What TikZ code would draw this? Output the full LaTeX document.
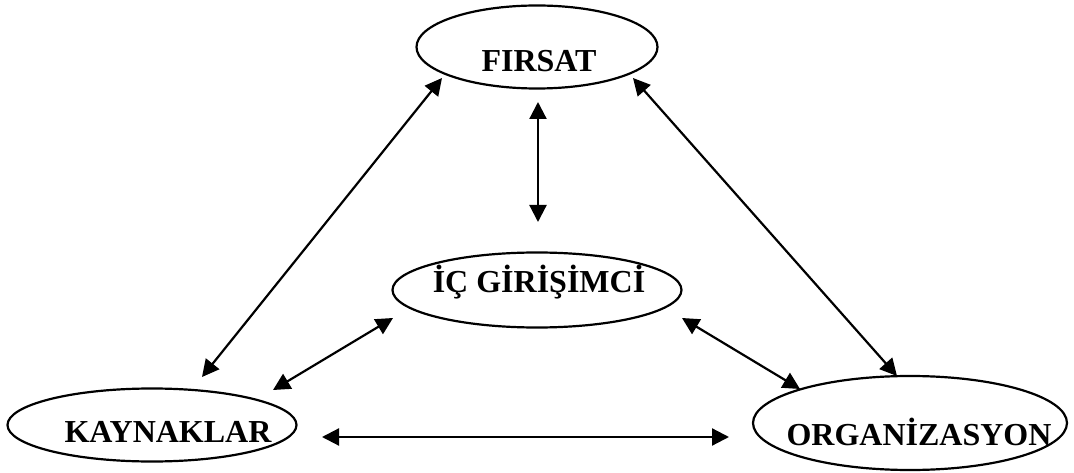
\documentclass[tikz,border=0pt]{standalone}
\usepackage{fontspec}
\setmainfont{Liberation Serif}
\usetikzlibrary{shapes.geometric,arrows.meta}
\tikzset{
  bubble/.style={draw, ellipse, line width=2.2pt, inner sep=0pt},
  caption/.style={anchor=base, inner sep=0pt, font=\bfseries\fontsize{32}{36}\selectfont},
  link/.style={line width=2.2pt, {Triangle[length=17pt,width=17pt]}-{Triangle[length=17pt,width=17pt]}}
}
\begin{document}
\begin{tikzpicture}[x=1pt,y=-1pt]
\useasboundingbox (0,0) rectangle (1074,473);

% ellipses
\node[bubble, minimum width=241pt, minimum height=83pt] (fir) at (537,47) {};
\node[bubble, minimum width=289pt, minimum height=75pt] (ic) at (537,290) {};
\node[bubble, minimum width=289pt, minimum height=73pt] (kay) at (152,425) {};
\node[bubble, minimum width=314pt, minimum height=94pt] (org) at (910,423) {};

% labels
\node[caption] (tfir) at (539,72) {FIRSAT};
\node[caption] (tic) at (539,293) {İÇ GİRİŞİMCİ};
\node[caption] (tkay) at (168,442) {KAYNAKLAR};
\node[caption] (torg) at (919,445) {ORGANİZASYON};

% arrow ends
\coordinate (fk1) at (442,78);
\coordinate (fk2) at (202,377);
\coordinate (fo1) at (633,78);
\coordinate (fo2) at (897,376);
\coordinate (fi1) at (538,102);
\coordinate (fi2) at (538,222);
\coordinate (ik1) at (393,318);
\coordinate (ik2) at (273,390);
\coordinate (io1) at (682,318);
\coordinate (io2) at (800,389);
\coordinate (ko1) at (322,437);
\coordinate (ko2) at (729,437);

% connectors
\draw[link] (fk1) -- (fk2);
\draw[link] (fo1) -- (fo2);
\draw[link] (fi1) -- (fi2);
\draw[link] (ik1) -- (ik2);
\draw[link] (io1) -- (io2);
\draw[link] (ko1) -- (ko2);
\end{tikzpicture}
\end{document}
